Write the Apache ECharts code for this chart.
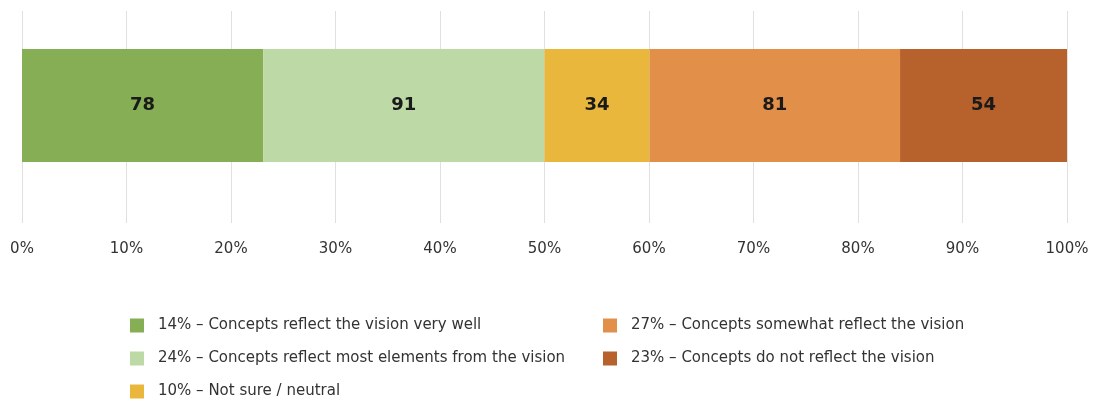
<!DOCTYPE html>
<html>
<head>
<meta charset="utf-8">
<script src="https://cdn.jsdelivr.net/npm/echarts@6/dist/echarts.min.js"></script>
<style>
  html, body { margin: 0; padding: 0; background: #fff; }
  #chart { width: 1093px; height: 400px; }
</style>
</head>
<body>
<div id="chart"></div>
<script>
// Responses per answer option (bar segments) and the shares quoted in the legend
const categories = [
  'Concepts reflect the vision very well',
  'Concepts reflect most elements from the vision',
  'Not sure / neutral',
  'Concepts somewhat reflect the vision',
  'Concepts do not reflect the vision'
];
const counts = [78, 91, 34, 81, 54];
const legendShares = [14, 24, 10, 27, 23];
const colors = ['#86AE54', '#BDD9A6', '#E8B73C', '#E28F4A', '#B7612C'];
const tickStepsPct = 10;

const total = counts.reduce((a, b) => a + b, 0);
const font = 'DejaVu Sans';

const shareOf = {};
categories.forEach((c, i) => { shareOf[c] = legendShares[i]; });

const series = categories.map((name, i) => ({
  name: name,
  type: 'bar',
  stack: 'all',
  xAxisIndex: 0,
  yAxisIndex: 0,
  barWidth: 113,
  data: [counts[i]],
  itemStyle: { color: colors[i] },
  label: {
    show: true,
    position: 'inside',
    fontFamily: font,
    fontSize: 18,
    fontWeight: 'bold',
    color: '#1a1a1a'
  },
  emphasis: { disabled: true }
}));

const legendCommon = {
  orient: 'vertical',
  top: 318,
  padding: 0,
  height: 82,
  itemWidth: 14,
  itemHeight: 14,
  itemGap: 18,
  icon: 'rect',
  selectedMode: false,
  formatter: n => shareOf[n] + '% \u2013 ' + n,
  textStyle: { fontFamily: font, fontSize: 15, lineHeight: 14, color: '#333', padding: [0, 0, 0, 9] }
};

const chart = echarts.init(document.getElementById('chart'));
chart.setOption({
  animation: false,
  color: colors,
  grid: [
    { left: 22, right: 26, top: 11, height: 189 },
    { left: 22, right: 26, top: 11, height: 212 }
  ],
  xAxis: [
    { gridIndex: 0, type: 'value', min: 0, max: total, show: false },
    {
      gridIndex: 1, type: 'value', min: 0, max: total, interval: total / tickStepsPct,
      axisLine: { show: false },
      axisTick: { show: false },
      splitLine: { show: true, lineStyle: { color: '#e0e0e0', width: 1 } },
      axisLabel: {
        margin: 19,
        fontFamily: font,
        fontSize: 15,
        color: '#333',
        formatter: v => Math.round(v / total * 100) + '%'
      }
    }
  ],
  yAxis: [
    { gridIndex: 0, type: 'category', data: ['Concepts'], show: false },
    { gridIndex: 1, type: 'category', data: ['Concepts'], show: false }
  ],
  legend: [
    Object.assign({}, legendCommon, { left: 130, data: categories.slice(0, 3) }),
    Object.assign({}, legendCommon, { left: 603, data: categories.slice(3) })
  ],
  series: series
});
</script>
</body>
</html>
